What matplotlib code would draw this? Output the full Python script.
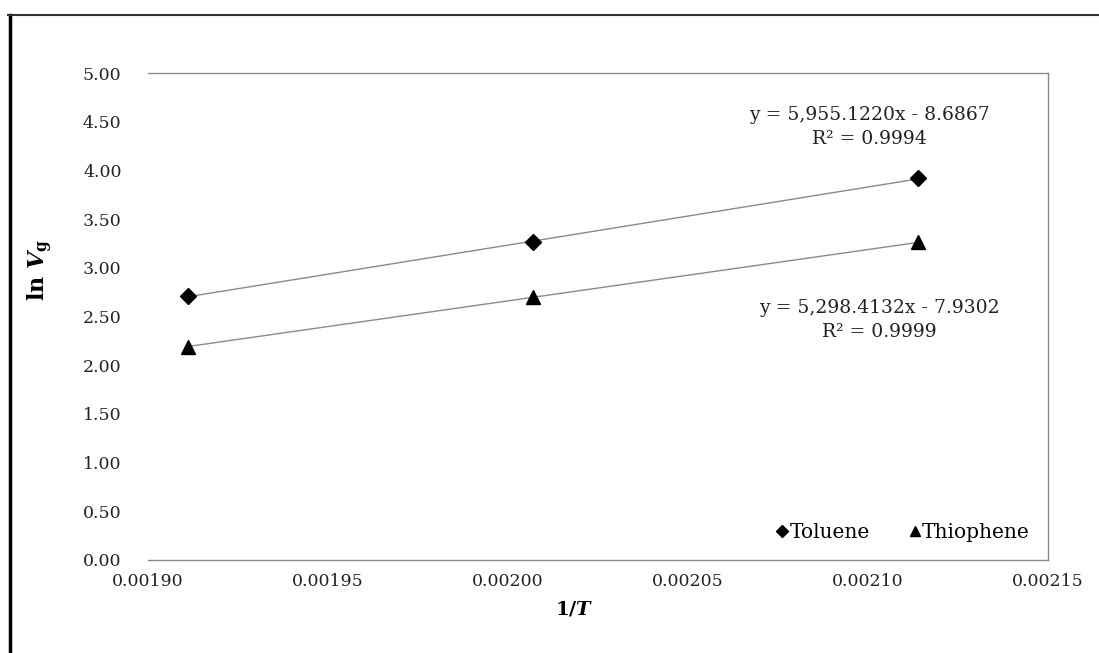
import numpy as np
import matplotlib.pyplot as plt
from matplotlib.lines import Line2D

plt.rcParams['font.family'] = 'DejaVu Serif'
plt.rcParams['mathtext.fontset'] = 'custom'
plt.rcParams['mathtext.rm'] = 'DejaVu Serif:bold'
plt.rcParams['mathtext.it'] = 'DejaVu Serif:bold:italic'

# data
inv_T = [0.001911, 0.002007, 0.002114]
toluene = [2.71, 3.26, 3.92]
thiophene = [2.19, 2.70, 3.26]
eq_toluene = 'y = 5,955.1220x - 8.6867\nR² = 0.9994'
eq_thiophene = 'y = 5,298.4132x - 7.9302\nR² = 0.9999'

fig = plt.figure(figsize=(10.99, 6.53), dpi=100)
ax = fig.add_axes([148 / 1099, 93 / 653, 900 / 1099, 487 / 653])

# linear trend lines
xs = np.array([inv_T[0], inv_T[-1]])
for ys in (toluene, thiophene):
    m, b = np.polyfit(inv_T, ys, 1)
    ax.plot(xs, m * xs + b, color='#8a8a8a', lw=1.0, zorder=2)

ax.plot(inv_T, toluene, 'D', color='black', ms=8, ls='none', label='Toluene', zorder=3)
ax.plot(inv_T, thiophene, '^', color='black', ms=10, ls='none', label='Thiophene', zorder=3)

ax.set_xlim(0.00190, 0.00215)
ax.set_ylim(0, 5)
ax.set_xticks(np.arange(0.00190, 0.002151, 0.00005))
ax.set_yticks(np.arange(0, 5.01, 0.5))
ax.xaxis.set_major_formatter(plt.FormatStrFormatter('%.5f'))
ax.yaxis.set_major_formatter(plt.FormatStrFormatter('%.2f'))
ax.tick_params(axis='both', length=0, labelsize=12.5, labelcolor='#222222')
ax.tick_params(axis='x', pad=9)
ax.tick_params(axis='y', pad=19)

for side in ('top', 'right', 'bottom'):
    ax.spines[side].set_color('#8a8a8a')
    ax.spines[side].set_linewidth(1.0)
ax.spines['left'].set_visible(False)

ax.set_ylabel(r'ln $\mathit{V}_{\mathrm{g}}$', fontsize=16, fontweight='bold')
ax.yaxis.set_label_coords(-0.103, 0.595)
ax.set_xlabel(r'1/$\mathit{T}$', fontsize=14, fontweight='bold')
ax.xaxis.set_label_coords(0.474, -0.082)

ax.text(0.802, 0.889, eq_toluene, transform=ax.transAxes, ha='center', va='center',
        fontsize=13.5, linespacing=1.45, color='#222222')
ax.text(0.813, 0.493, eq_thiophene, transform=ax.transAxes, ha='center', va='center',
        fontsize=13.5, linespacing=1.45, color='#222222')

ax.legend(loc='lower right', bbox_to_anchor=(1.0, 0.0), ncol=2, frameon=False,
          handlelength=0.5, handletextpad=0.1, columnspacing=2.0, fontsize=14.5,
          markerscale=0.75)

# outer frame of the scanned chart
fig.add_artist(Line2D([9.5 / 1099, 9.5 / 1099], [0, 1 - 15 / 653], color='black', lw=2.5))
fig.add_artist(Line2D([8 / 1099, 1], [1 - 15 / 653, 1 - 15 / 653], color='#333333', lw=1.5))

fig.savefig('out.png', dpi=100)
